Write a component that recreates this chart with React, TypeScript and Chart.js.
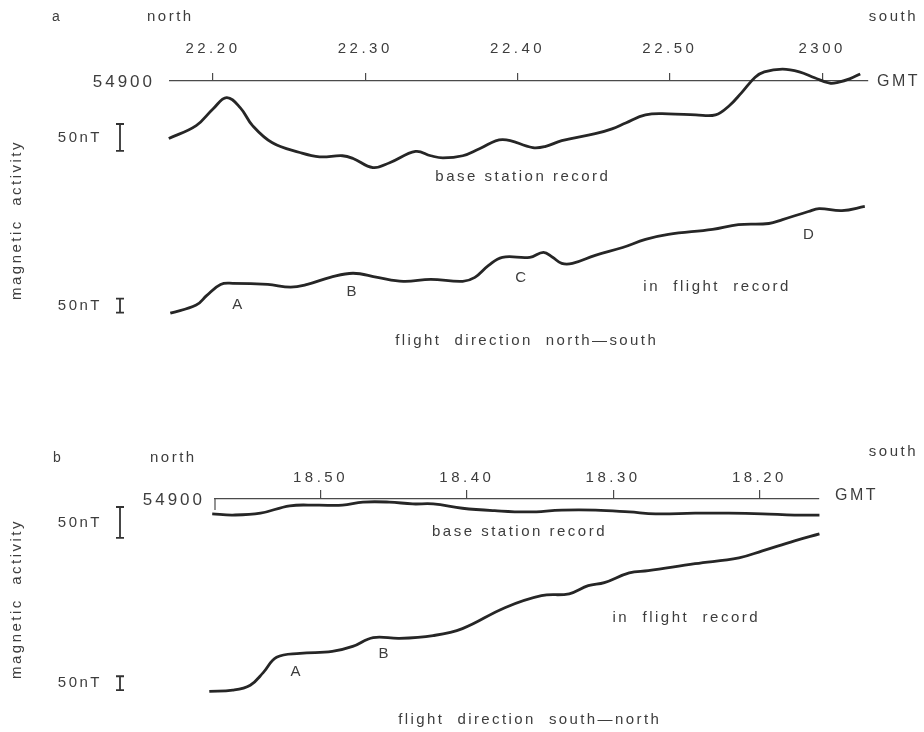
import React, { useEffect, useRef } from "react";
import { Chart, registerables } from "chart.js";

Chart.register(...registerables);

// ---------- Panel a : minutes after 22:00 GMT, flight north -> south ----------
const A_TICK_VALUES = [20, 30, 40, 50, 60];
const A_TICK_LABELS = ["22.20", "22.30", "22.40", "22.50", "2300"];
const A_X_MIN = 17.18;
const A_X_MAX = 63.01;

const A_BASE_T = [17.1, 18.9, 20.0, 20.9, 21.8, 22.6, 23.9, 25.7, 27.0, 28.5, 29.2, 30.5, 31.6, 33.3, 34.3, 35.1, 36.4, 37.5, 39.0, 41.0, 41.8, 42.9, 45.1, 46.2, 47.1, 48.4, 49.9, 51.7, 53.0, 53.9, 54.7, 55.6, 56.2, 57.4, 58.5, 59.5, 60.5, 61.1, 61.8, 62.5];
const A_BASE_NT = [54793, 54817, 54848, 54869, 54850, 54817, 54785, 54767, 54759, 54761, 54756, 54739, 54748, 54769, 54761, 54757, 54761, 54774, 54791, 54776, 54778, 54789, 54802, 54811, 54822, 54837, 54839, 54837, 54837, 54854, 54878, 54907, 54917, 54922, 54917, 54906, 54896, 54898, 54904, 54913];

const A_FLIGHT_T = [17.2, 18.9, 19.6, 20.5, 21.3, 23.6, 25.1, 26.2, 27.7, 29.2, 30.8, 32.5, 34.3, 36.4, 37.2, 38.1, 39.0, 40.8, 41.7, 42.3, 42.9, 43.6, 45.1, 46.9, 48.4, 49.9, 52.8, 54.5, 56.5, 57.4, 59.1, 59.8, 61.3, 62.8];
const A_FLIGHT_NT = [189, 218, 253, 292, 296, 292, 282, 292, 317, 332, 317, 303, 310, 303, 317, 360, 389, 389, 407, 389, 367, 367, 396, 424, 453, 471, 489, 506, 510, 524, 553, 563, 556, 571];

const A_BASE_RANGE = [54370, 54900];
const A_FLIGHT_RANGE = [0, 1020];

const A_FLIGHT_LABELS = [
  { text: "A", t: 21.6, v: 218 },
  { text: "B", t: 29.1, v: 264 },
  { text: "C", t: 40.2, v: 314 },
  { text: "D", t: 59.1, v: 471 },
];

// ---------- Panel b : minutes after 18:00 GMT, flight south -> north ----------
const B_TICK_VALUES = [50, 40, 30, 20];
const B_TICK_LABELS = ["18.50", "18.40", "18.30", "18.20"];
const B_X_MIN = 15.93;
const B_X_MAX = 57.21;

const B_BASE_T = [57.4, 56.0, 54.1, 52.1, 50.2, 48.5, 47.1, 45.3, 43.7, 42.3, 40.3, 38.1, 35.8, 33.5, 31.2, 28.9, 27.1, 24.4, 22.1, 19.8, 17.6, 15.9];
const B_BASE_NT = [54876, 54874, 54877, 54889, 54890, 54890, 54895, 54895, 54892, 54892, 54885, 54881, 54879, 54882, 54882, 54879, 54876, 54877, 54877, 54876, 54874, 54874];

const B_FLIGHT_T = [57.6, 56.0, 54.8, 53.9, 53.0, 51.4, 49.2, 47.8, 46.4, 44.6, 42.3, 40.3, 37.4, 34.9, 33.0, 31.7, 30.6, 28.9, 27.6, 24.4, 21.4, 19.8, 17.6, 15.9];
const B_FLIGHT_NT = [146, 150, 168, 214, 268, 282, 289, 307, 339, 336, 346, 371, 446, 489, 496, 525, 536, 571, 579, 604, 625, 650, 686, 711];

const B_BASE_RANGE = [54522, 54900];
const B_FLIGHT_RANGE = [0, 836];

const B_FLIGHT_LABELS = [
  { text: "A", t: 51.7, v: 214 },
  { text: "B", t: 45.7, v: 282 },
];

const FONT = '"Liberation Sans", Arial, Helvetica, sans-serif';
const TEXT_COLOR = "#3d3d3d";
const LINE_COLOR = "#262626";
const AXIS_COLOR = "#4a4a4a";

type Cfg = {
  letter: string;
  letterPos: [number, number];
  northPos: [number, number];
  southPos: [number, number];
  vertY: number;
  refLabelRight: number;
  gmtGap: number;
  gmtDy: number;
  baseLabel: { t: number; v: number };
  flightLabel: { t: number; v: number };
  directionText: string;
  directionPos: { t: number; v: number };
  flightLabels: { text: string; t: number; v: number }[];
  baseBar: number;
  flightBar: number;
  leftEndTick: boolean;
};

function drawText(
  ctx: CanvasRenderingContext2D,
  s: string,
  x: number,
  y: number,
  align: CanvasTextAlign,
  size: number,
  ls: number,
  rotate = false
) {
  ctx.save();
  ctx.font = `${size}px ${FONT}`;
  ctx.fillStyle = TEXT_COLOR;
  ctx.textAlign = align;
  ctx.textBaseline = "middle";
  (ctx as any).letterSpacing = `${ls}px`;
  if (rotate) {
    ctx.translate(x, y);
    ctx.rotate(-Math.PI / 2);
    ctx.fillText(s, 0, 0);
  } else {
    ctx.fillText(s, x, y);
  }
  ctx.restore();
}

function drawScaleBar(ctx: CanvasRenderingContext2D, x: number, y1: number, y2: number) {
  ctx.save();
  ctx.strokeStyle = "#333";
  ctx.lineWidth = 1.8;
  ctx.beginPath();
  ctx.moveTo(x, y1);
  ctx.lineTo(x, y2);
  ctx.moveTo(x - 4, y1);
  ctx.lineTo(x + 4, y1);
  ctx.moveTo(x - 4, y2);
  ctx.lineTo(x + 4, y2);
  ctx.stroke();
  ctx.restore();
}

function makePlugin(cfg: Cfg) {
  return {
    id: "figureText",
    beforeDraw(chart: any) {
      (chart.ctx as any).letterSpacing = "3.5px";
    },
    afterDraw(chart: any) {
      const ctx: CanvasRenderingContext2D = chart.ctx;
      (ctx as any).letterSpacing = "0px";
      const xs = chart.scales.x;
      const ys = chart.scales.y;
      const y2s = chart.scales.y2;
      const area = chart.chartArea;
      const axisY = ys.getPixelForValue(54900);

      drawText(ctx, cfg.letter, cfg.letterPos[0], cfg.letterPos[1], "center", 14, 0);
      drawText(ctx, "north", cfg.northPos[0], cfg.northPos[1], "left", 15, 2.5);
      drawText(ctx, "south", cfg.southPos[0], cfg.southPos[1], "right", 15, 2.5);
      drawText(ctx, "54900", cfg.refLabelRight, axisY + 1, "right", 17, 3);
      drawText(ctx, "GMT", area.right + cfg.gmtGap, axisY + 1 + cfg.gmtDy, "left", 16, 2.5);
      drawText(ctx, "magnetic  activity", 17, cfg.vertY, "center", 15, 2.5, true);

      if (cfg.leftEndTick) {
        ctx.save();
        ctx.strokeStyle = AXIS_COLOR;
        ctx.lineWidth = 1.2;
        ctx.beginPath();
        ctx.moveTo(area.left, axisY);
        ctx.lineTo(area.left, axisY + 11);
        ctx.stroke();
        ctx.restore();
      }

      // 50 nT scale bars, drawn with each record's own vertical scale
      const b1 = ys.getPixelForValue(cfg.baseBar - 25);
      const b2 = ys.getPixelForValue(cfg.baseBar + 25);
      drawScaleBar(ctx, 120, b2, b1);
      drawText(ctx, "50nT", 102, (b1 + b2) / 2, "right", 15, 2.5);
      const f1 = y2s.getPixelForValue(cfg.flightBar - 25);
      const f2 = y2s.getPixelForValue(cfg.flightBar + 25);
      drawScaleBar(ctx, 120, f2, f1);
      drawText(ctx, "50nT", 102, (f1 + f2) / 2, "right", 15, 2.5);

      drawText(ctx, "base station record", xs.getPixelForValue(cfg.baseLabel.t), ys.getPixelForValue(cfg.baseLabel.v), "center", 15, 2.5);
      drawText(ctx, "in  flight  record", xs.getPixelForValue(cfg.flightLabel.t), y2s.getPixelForValue(cfg.flightLabel.v), "center", 15, 2.5);
      drawText(ctx, cfg.directionText, xs.getPixelForValue(cfg.directionPos.t), y2s.getPixelForValue(cfg.directionPos.v), "center", 15, 2.4);
      for (const l of cfg.flightLabels) {
        drawText(ctx, l.text, xs.getPixelForValue(l.t), y2s.getPixelForValue(l.v), "center", 15, 0);
      }
    },
  };
}

function pts(t: number[], v: number[]) {
  return t.map((x, i) => ({ x, y: v[i] }));
}

function buildChart(
  canvas: HTMLCanvasElement,
  opts: {
    base: { x: number; y: number }[];
    flight: { x: number; y: number }[];
    xMin: number;
    xMax: number;
    reverse: boolean;
    tickValues: number[];
    tickLabels: string[];
    baseRange: number[];
    flightRange: number[];
    padding: { left: number; right: number; top: number; bottom: number };
    tickLength: number;
    tickPadding: number;
    cfg: Cfg;
  }
) {
  const lineStyle = {
    borderColor: LINE_COLOR,
    borderWidth: 2.8,
    pointRadius: 0,
    tension: 0.4,
    fill: false,
    clip: false as const,
  };
  return new Chart(canvas, {
    type: "line",
    data: {
      datasets: [
        { label: "base station record", data: opts.base, yAxisID: "y", ...lineStyle },
        { label: "in flight record", data: opts.flight, yAxisID: "y2", ...lineStyle },
      ],
    },
    options: {
      responsive: false,
      animation: false,
      events: [],
      layout: { padding: opts.padding },
      plugins: { legend: { display: false }, tooltip: { enabled: false }, title: { display: false } },
      scales: {
        x: {
          type: "linear",
          position: "top",
          min: opts.xMin,
          max: opts.xMax,
          reverse: opts.reverse,
          afterBuildTicks: (axis: any) => {
            axis.ticks = opts.tickValues.map((value) => ({ value }));
          },
          grid: {
            drawOnChartArea: false,
            drawTicks: true,
            tickLength: opts.tickLength,
            color: AXIS_COLOR,
            lineWidth: 1.2,
          },
          border: { display: true, color: AXIS_COLOR, width: 1.2 },
          ticks: {
            autoSkip: false,
            maxRotation: 0,
            padding: opts.tickPadding,
            color: TEXT_COLOR,
            font: { family: FONT, size: 15 },
            callback: (_v: any, i: number) => opts.tickLabels[i],
          },
        },
        y: { display: false, min: opts.baseRange[0], max: opts.baseRange[1] },
        y2: { display: false, min: opts.flightRange[0], max: opts.flightRange[1] },
      },
    },
    plugins: [makePlugin(opts.cfg)],
  } as any);
}

export default function App() {
  const refA = useRef<HTMLCanvasElement>(null);
  const refB = useRef<HTMLCanvasElement>(null);

  useEffect(() => {
    const chartA = buildChart(refA.current!, {
      base: pts(A_BASE_T, A_BASE_NT),
      flight: pts(A_FLIGHT_T, A_FLIGHT_NT),
      xMin: A_X_MIN,
      xMax: A_X_MAX,
      reverse: false,
      tickValues: A_TICK_VALUES,
      tickLabels: A_TICK_LABELS,
      baseRange: A_BASE_RANGE,
      flightRange: A_FLIGHT_RANGE,
      padding: { left: 170, right: 56, top: 25, bottom: 0 },
      tickLength: 8,
      tickPadding: 15,
      cfg: {
        letter: "a",
        letterPos: [56, 17],
        northPos: [147, 17],
        southPos: [918, 17],
        vertY: 220,
        refLabelRight: 155,
        gmtGap: 9,
        gmtDy: 0,
        baseLabel: { t: 40.35, v: 54722 },
        flightLabel: { t: 53.1, v: 285 },
        directionText: "flight  direction  north—south",
        directionPos: { t: 40.6, v: 89 },
        flightLabels: A_FLIGHT_LABELS,
        baseBar: 54795,
        flightBar: 216,
        leftEndTick: false,
      },
    });
    const chartB = buildChart(refB.current!, {
      base: pts(B_BASE_T, B_BASE_NT),
      flight: pts(B_FLIGHT_T, B_FLIGHT_NT),
      xMin: B_X_MIN,
      xMax: B_X_MAX,
      reverse: true,
      tickValues: B_TICK_VALUES,
      tickLabels: B_TICK_LABELS,
      baseRange: B_BASE_RANGE,
      flightRange: B_FLIGHT_RANGE,
      padding: { left: 215, right: 105, top: 100, bottom: 0 },
      tickLength: 9,
      tickPadding: 3,
      cfg: {
        letter: "b",
        letterPos: [57, 92],
        northPos: [150, 92],
        southPos: [918, 86],
        vertY: 233,
        refLabelRight: 205,
        gmtGap: 16,
        gmtDy: -4,
        baseLabel: { t: 36.4, v: 54847 },
        flightLabel: { t: 25.0, v: 411 },
        directionText: "flight  direction  south—north",
        directionPos: { t: 35.7, v: 43 },
        flightLabels: B_FLIGHT_LABELS,
        baseBar: 54862,
        flightBar: 175,
        leftEndTick: true,
      },
    });
    return () => {
      chartA.destroy();
      chartB.destroy();
    };
  }, []);

  return (
    <div style={{ position: "absolute", left: 0, top: 0, width: 924, height: 732, background: "#fff" }}>
      <canvas ref={refA} width={924} height={366} style={{ display: "block", width: 924, height: 366 }} />
      <canvas ref={refB} width={924} height={366} style={{ display: "block", width: 924, height: 366 }} />
    </div>
  );
}
